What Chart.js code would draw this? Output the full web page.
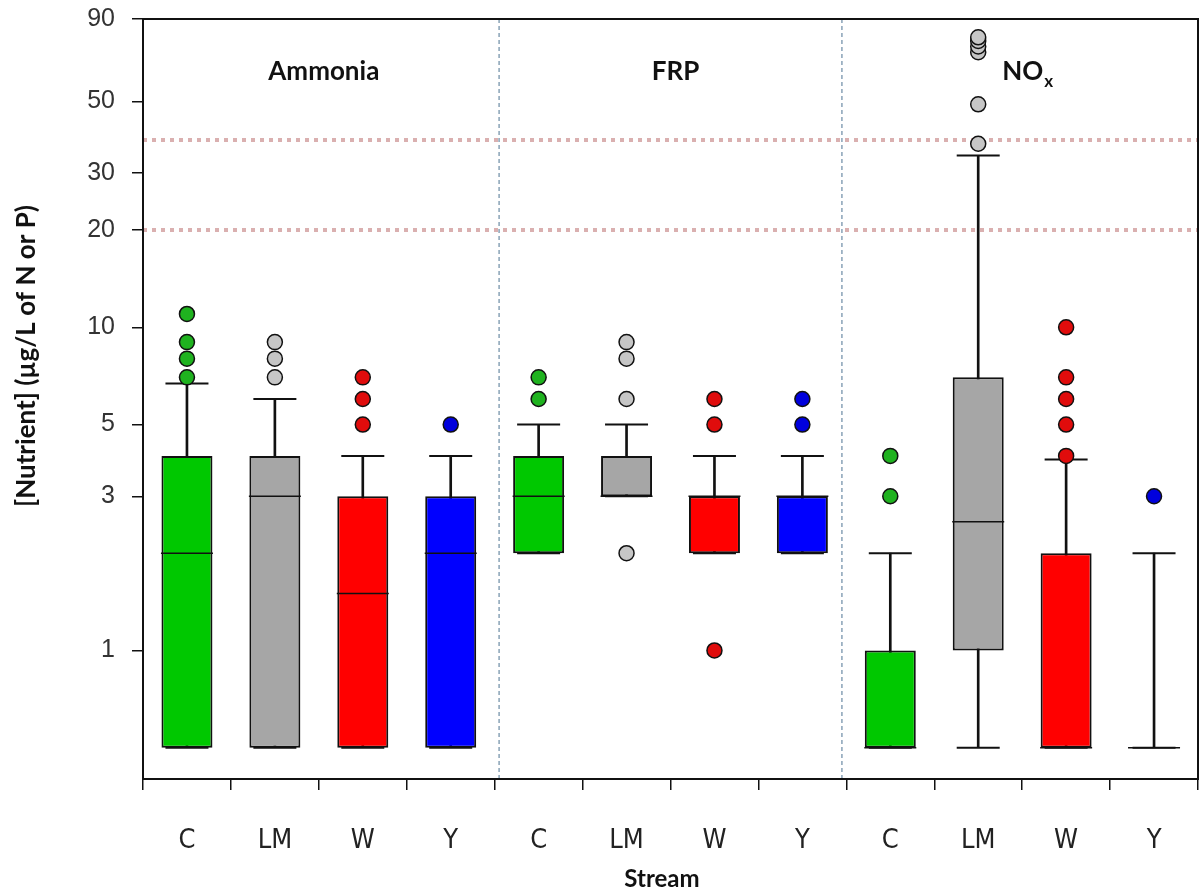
<!DOCTYPE html>
<html>
<head>
<meta charset="utf-8">
<script src="https://cdn.jsdelivr.net/npm/chart.js@4.4.0/dist/chart.umd.min.js"></script>
<style>
html,body{margin:0;padding:0;background:#fff;}
#wrap{width:1200px;height:892px;position:relative;}
</style>
</head>
<body>
<div id="wrap"><canvas id="c"></canvas></div>
<script>
// ---- data ----
const categories = ['C','LM','W','Y','C','LM','W','Y','C','LM','W','Y'];
const groupNames = ['Ammonia','FRP','NO'];
const groupSubs = ['','','x'];
const yTicks = [1,3,5,10,20,30,50,90];
const q1 =         [0.5,0.5,0.5,0.5, 2,3,2,2, 0.5,1,0.5,0.5];
const q3 =         [4,4,3,3,         4,4,3,3, 1,7,2,0.5];
const medians =    [2,3,1.5,2,       3,3,3,3, 0.5,2.5,0.5,0.5];
const whiskerLow = [0.5,0.5,0.5,0.5, 2,3,2,2, 0.5,0.5,0.5,0.5];
const whiskerHigh= [6.7,6,4,4,       5,5,4,4, 2,34,3.9,2];
const outliers = [
  [7,8,9,11],[7,8,9],[5,6,7],[5],
  [6,7],[2,6,8,9],[1,5,6],[5,6],
  [3,4],[37,49,71,74,77,79],[4,5,6,7,10],[3]
];
const refLines = [20, 38];
const dividers = [3.55, 7.45];
const streamBoxColors = {C:'#00c800', LM:'#a6a6a6', W:'#ff0000', Y:'#0000ff'};
const streamDotColors = {C:'#1fb21f', LM:'#c6c6c6', W:'#e00c0c', Y:'#0000dd'};

// ---- build datasets ----
const idx = categories.map((_, i) => i);
const boxData = idx.map(i => ({x: i, y: [q1[i], q3[i]]}));
const whiskerData = idx.map(i => ({x: i, y: [whiskerLow[i], whiskerHigh[i]]}));
const medianData = idx.map(i => ({x: i, y: medians[i]}));
const capData = idx.map(i => ({x: i, y: whiskerHigh[i]})).concat(idx.map(i => ({x: i, y: whiskerLow[i]})));
const outData = [], outColors = [];
outliers.forEach((arr, i) => arr.forEach(v => { outData.push({x: i, y: v}); outColors.push(streamDotColors[categories[i]]); }));

const datasets = [
  {type:'line', label:'outliers', data: outData, showLine:false, pointRadius:7.5, pointHoverRadius:7.5,
   pointBackgroundColor: outColors, pointBorderColor:'#111', pointBorderWidth:1.5},
  {type:'line', label:'median', data: medianData, showLine:false, pointStyle:'line', pointRadius:26, pointHoverRadius:26,
   pointBorderColor:'#111', pointBorderWidth:1.5},
  {type:'line', label:'caps', data: capData, showLine:false, pointStyle:'line', pointRadius:21.5, pointHoverRadius:21.5,
   pointBorderColor:'#111', pointBorderWidth:2},
  {type:'bar', label:'box', data: boxData, grouped:false, barPercentage:0.58, categoryPercentage:1,
   backgroundColor: categories.map(c => streamBoxColors[c]), borderColor:'#111', borderWidth:2, borderSkipped:false},
  {type:'bar', label:'whisker', data: whiskerData, grouped:false, barPercentage:1, categoryPercentage:1, maxBarThickness:2,
   backgroundColor:'#111', borderWidth:0},
];
refLines.forEach(v => datasets.push({type:'line', label:'ref', data:[{x:-0.5,y:v},{x:11.5,y:v}],
  borderColor:'rgba(205,150,150,0.75)', borderWidth:4, borderDash:[4,5], pointRadius:0}));
dividers.forEach(d => datasets.push({type:'line', label:'div', data:[{x:d,y:0.4},{x:d,y:90}],
  borderColor:'#4d7392', borderWidth:1, borderDash:[4,3], pointRadius:0}));

const decor = {
  id: 'decor',
  afterDraw(chart) {
    const {ctx, chartArea: a, scales: {x}} = chart;
    ctx.save();
    ctx.strokeStyle = '#111'; ctx.lineWidth = 2;
    ctx.strokeRect(a.left, a.top, a.right - a.left, a.bottom - a.top);
    ctx.fillStyle = '#111';
    ctx.textBaseline = 'middle';
    groupNames.forEach((g, k) => {
      const cx = x.getPixelForValue(k * 4 + 1.5) + 5;
      ctx.font = 'bold 26px Lato, "Open Sans", sans-serif';
      const w1 = ctx.measureText(g).width;
      ctx.font = 'bold 17px Lato, "Open Sans", sans-serif';
      const w2 = groupSubs[k] ? ctx.measureText(groupSubs[k]).width : 0;
      const x0 = cx - (w1 + w2) / 2;
      ctx.textAlign = 'left';
      ctx.font = 'bold 26px Lato, "Open Sans", sans-serif';
      ctx.fillText(g, x0, a.top + 53);
      if (groupSubs[k]) { ctx.font = 'bold 17px Lato, "Open Sans", sans-serif'; ctx.fillText(groupSubs[k], x0 + w1 + 1, a.top + 63); }
    });
    // axis titles
    ctx.font = 'bold 24px Lato, "Open Sans", sans-serif';
    ctx.textAlign = 'center';
    ctx.fillText('Stream', 662, 879);
    ctx.translate(27, 356);
    ctx.rotate(-Math.PI / 2);
    ctx.font = 'bold 26px Lato, "Open Sans", sans-serif';
    ctx.fillText('[Nutrient] (µg/L of N or P)', 0, 0);
    ctx.restore();
  }
};

new Chart(document.getElementById('c'), {
  data: {datasets},
  plugins: [decor],
  options: {
    responsive: true, maintainAspectRatio: false, animation: false,
    layout: {autoPadding: false, padding: {top: 19, right: 2, left: 0, bottom: 0}},
    plugins: {legend: {display: false}, tooltip: {enabled: false}},
    scales: {
      x: {
        type: 'linear', min: -0.5, max: 11.5, offset: false,
        afterBuildTicks: s => { s.ticks = categories.map((_, i) => ({value: i})); },
        afterFit: s => { s.height = 113; s.paddingLeft = 0; s.paddingRight = 0; s.paddingTop = 0; s.paddingBottom = 0; },
        ticks: {autoSkip: false, maxRotation: 0, padding: 35, color: '#222',
          font: {family: '"Liberation Sans Narrow", "DejaVu Sans Condensed", "Liberation Sans", sans-serif', size: 27},
          callback: v => categories[Math.round(v)] ?? ''},
        grid: {drawOnChartArea: false, drawTicks: true, tickLength: 11, color: '#111', lineWidth: 1.5},
        border: {display: true, color: '#111', width: 2}
      },
      y: {
        type: 'logarithmic', min: 0.4, max: 90,
        afterBuildTicks: s => { s.ticks = yTicks.map(v => ({value: v})); },
        afterFit: s => { s.width = 143; s.paddingTop = 0; s.paddingBottom = 0; s.paddingLeft = 0; s.paddingRight = 0; },
        ticks: {padding: 17, color: '#333',
          font: {family: '"Liberation Sans", Arial, sans-serif', size: 25},
          callback: v => String(v)},
        grid: {drawOnChartArea: false, drawTicks: true, tickLength: 11, color: '#111', lineWidth: 1.5},
        border: {display: true, color: '#111', width: 2}
      }
    }
  }
});
</script>
</body>
</html>
